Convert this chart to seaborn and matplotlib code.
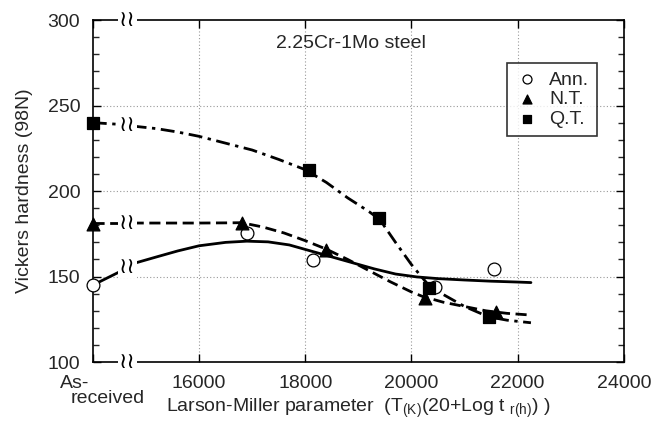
import matplotlib
matplotlib.use("Agg")
import matplotlib.pyplot as plt
import seaborn as sns
import pandas as pd
import numpy as np
from matplotlib.ticker import MultipleLocator

# ---- data ----
ann_x = [14000, 16900, 18150, 20450, 21550]
ann_y = [145, 175.5, 159.5, 144, 154.5]
nt_x = [14000, 16800, 18400, 20250, 21600]
nt_y = [181, 181.5, 165.5, 137.5, 129]
qt_x = [14000, 18070, 19390, 20330, 21460]
qt_y = [240, 212.5, 184, 143.5, 126.5]

# fitted curves (left short segment before the axis break, right segment after)
ann_curve_left_x = [14000, 14550]
ann_curve_left_y = [145, 153.5]
ann_curve_x = [14750, 15200, 15600, 16000, 16500, 16900, 17300, 17700, 18100, 18500,
               18900, 19300, 19700, 20100, 20500, 21000, 21500, 22000, 22250]
ann_curve_y = [157.5, 161.5, 165, 168, 170, 170.7, 170.3, 168.5, 165, 161.5,
               158, 154.5, 151.5, 149.8, 148.8, 148, 147.3, 146.8, 146.5]

nt_curve_left_x = [14000, 14500]
nt_curve_left_y = [181.3, 181.3]
nt_curve_x = [14750, 15500, 16000, 16500, 16800, 17200, 17600, 18000, 18400, 18800,
              19200, 19600, 20000, 20200, 20600, 21000, 21400, 21800, 22250]
nt_curve_y = [181.3, 181.3, 181.3, 181.4, 181.5, 179, 175.5, 171, 166, 160,
              153.5, 147, 141, 138.5, 135, 132.5, 130, 128.5, 127.5]

qt_curve_left_x = [14000, 14500]
qt_curve_left_y = [240, 239]
qt_curve_x = [14750, 15200, 15600, 16000, 16500, 17000, 17500, 18000, 18400, 18800,
              19200, 19400, 19700, 20000, 20200, 20350, 20600, 21000, 21450, 21800, 22250]
qt_curve_y = [238, 236.5, 234.5, 232, 228, 224, 218.5, 212.5, 205, 196,
              188, 183.5, 170, 157, 149.5, 144, 139.5, 132.5, 126.5, 124.5, 123]

labels = ["Ann.", "N.T.", "Q.T."]
x_ticks = [14000, 16000, 18000, 20000, 22000, 24000]
x_ticklabels = ["", "16000", "18000", "20000", "22000", "24000"]
as_received = ["As-", "received"]
y_ticks = [100, 150, 200, 250, 300]
break_x = 14650

# ---- style ----
sns.set_theme(style="ticks")
plt.rcParams["font.family"] = ["Liberation Sans", "DejaVu Sans"]
plt.rcParams["mathtext.fontset"] = "custom"
plt.rcParams["mathtext.rm"] = "Liberation Sans"
plt.rcParams["mathtext.it"] = "Liberation Sans"

FS = 14

fig = plt.figure(figsize=(6.63, 4.26), dpi=100)
ax = fig.add_axes([0.140, 0.150, 0.801, 0.803])

lw = 2.0
curve_specs = [
    (ann_curve_left_x, ann_curve_left_y, ann_curve_x, ann_curve_y, "-"),
    (nt_curve_left_x, nt_curve_left_y, nt_curve_x, nt_curve_y, (0, (4, 2))),
    (qt_curve_left_x, qt_curve_left_y, qt_curve_x, qt_curve_y, (0, (5, 2, 1.2, 2))),
]
for lx, ly, rx, ry, ls in curve_specs:
    for xs, ys in ((lx, ly), (rx, ry)):
        d = pd.DataFrame({"x": xs, "y": ys})
        sns.lineplot(data=d, x="x", y="y", ax=ax, color="black", lw=lw,
                     linestyle=ls, sort=False, estimator=None, clip_on=False)

# points
pts = pd.DataFrame({
    "x": ann_x + nt_x + qt_x,
    "y": ann_y + nt_y + qt_y,
    "grp": [labels[0]] * len(ann_x) + [labels[1]] * len(nt_x) + [labels[2]] * len(qt_x),
})
markers = {"Ann.": "o", "N.T.": "^", "Q.T.": "s"}
faces = {"Ann.": "white", "N.T.": "black", "Q.T.": "black"}
for g in labels:
    sub = pts[pts.grp == g]
    sns.scatterplot(data=sub, x="x", y="y", ax=ax, marker=markers[g], s=85,
                    facecolor=faces[g], edgecolor="black", linewidth=0.9,
                    zorder=5, clip_on=False, label=g)

# break symbols
brk_kw = dict(ha="center", va="center", fontsize=16, color="black",
              family="DejaVu Sans", zorder=6, clip_on=False,
              bbox=dict(boxstyle="square,pad=0.05", fc="white", ec="none"))
ax.text(break_x, 300, "≀≀", **brk_kw)
ax.text(break_x, 100, "≀≀", **brk_kw)
ax.text(break_x, 155.5, "≀≀", **brk_kw)
ax.text(break_x, 181.3, "≀≀", **brk_kw)
ax.text(break_x, 238.5, "≀≀", **brk_kw)

# axes
ax.set_xlim(14000, 24000)
ax.set_ylim(100, 300)
ax.set_xticks(x_ticks)
ax.set_xticklabels(x_ticklabels, fontsize=FS)
ax.set_yticks(y_ticks)
ax.yaxis.set_minor_locator(MultipleLocator(10))
ax.tick_params(axis="both", which="major", direction="in", length=6, width=1,
               top=True, right=True, labelsize=FS, color="black")
ax.tick_params(axis="x", which="major", pad=9)
ax.tick_params(axis="y", which="major", pad=9)
ax.tick_params(axis="y", which="minor", direction="in", length=4, width=1,
               left=True, right=True)
for s in ax.spines.values():
    s.set_linewidth(1.2)
    s.set_color("black")

# "As-received" tick label, staggered as in the reference
ax.annotate(as_received[0], xy=(x_ticks[0], 100), xycoords="data",
            xytext=(-24, -9.5), textcoords="offset points",
            ha="left", va="top", fontsize=FS, annotation_clip=False)
ax.annotate(as_received[1], xy=(x_ticks[0], 100), xycoords="data",
            xytext=(-16, -20), textcoords="offset points",
            ha="left", va="top", fontsize=FS, annotation_clip=False)

for gx in [16000, 18000, 20000, 22000]:
    ax.axvline(gx, color="#999999", lw=0.8, ls=(0, (1, 2)), zorder=0)
for gy in [150, 200, 250]:
    ax.axhline(gy, color="#999999", lw=0.8, ls=(0, (1, 2)), zorder=0)

ax.set_xlabel("Larson-Miller parameter  (T$_{(K)}$(20+Log t $_{r(h)}$) )", fontsize=FS)
ax.xaxis.set_label_coords(0.5, -0.10)
ax.set_ylabel("Vickers hardness (98N)", fontsize=FS)
ax.yaxis.set_label_coords(-0.113, 0.5)

ax.text(17450, 286, "2.25Cr-1Mo steel", fontsize=FS, ha="left", va="center")

leg = ax.legend(loc="upper right", bbox_to_anchor=(0.949, 0.874), borderaxespad=0,
                frameon=True, fancybox=False, edgecolor="black", fontsize=FS,
                handletextpad=0.55, borderpad=0.4, labelspacing=0.12,
                handlelength=1.2, markerscale=0.7)
leg.get_frame().set_linewidth(1.2)

fig.savefig("out.png", dpi=100)
